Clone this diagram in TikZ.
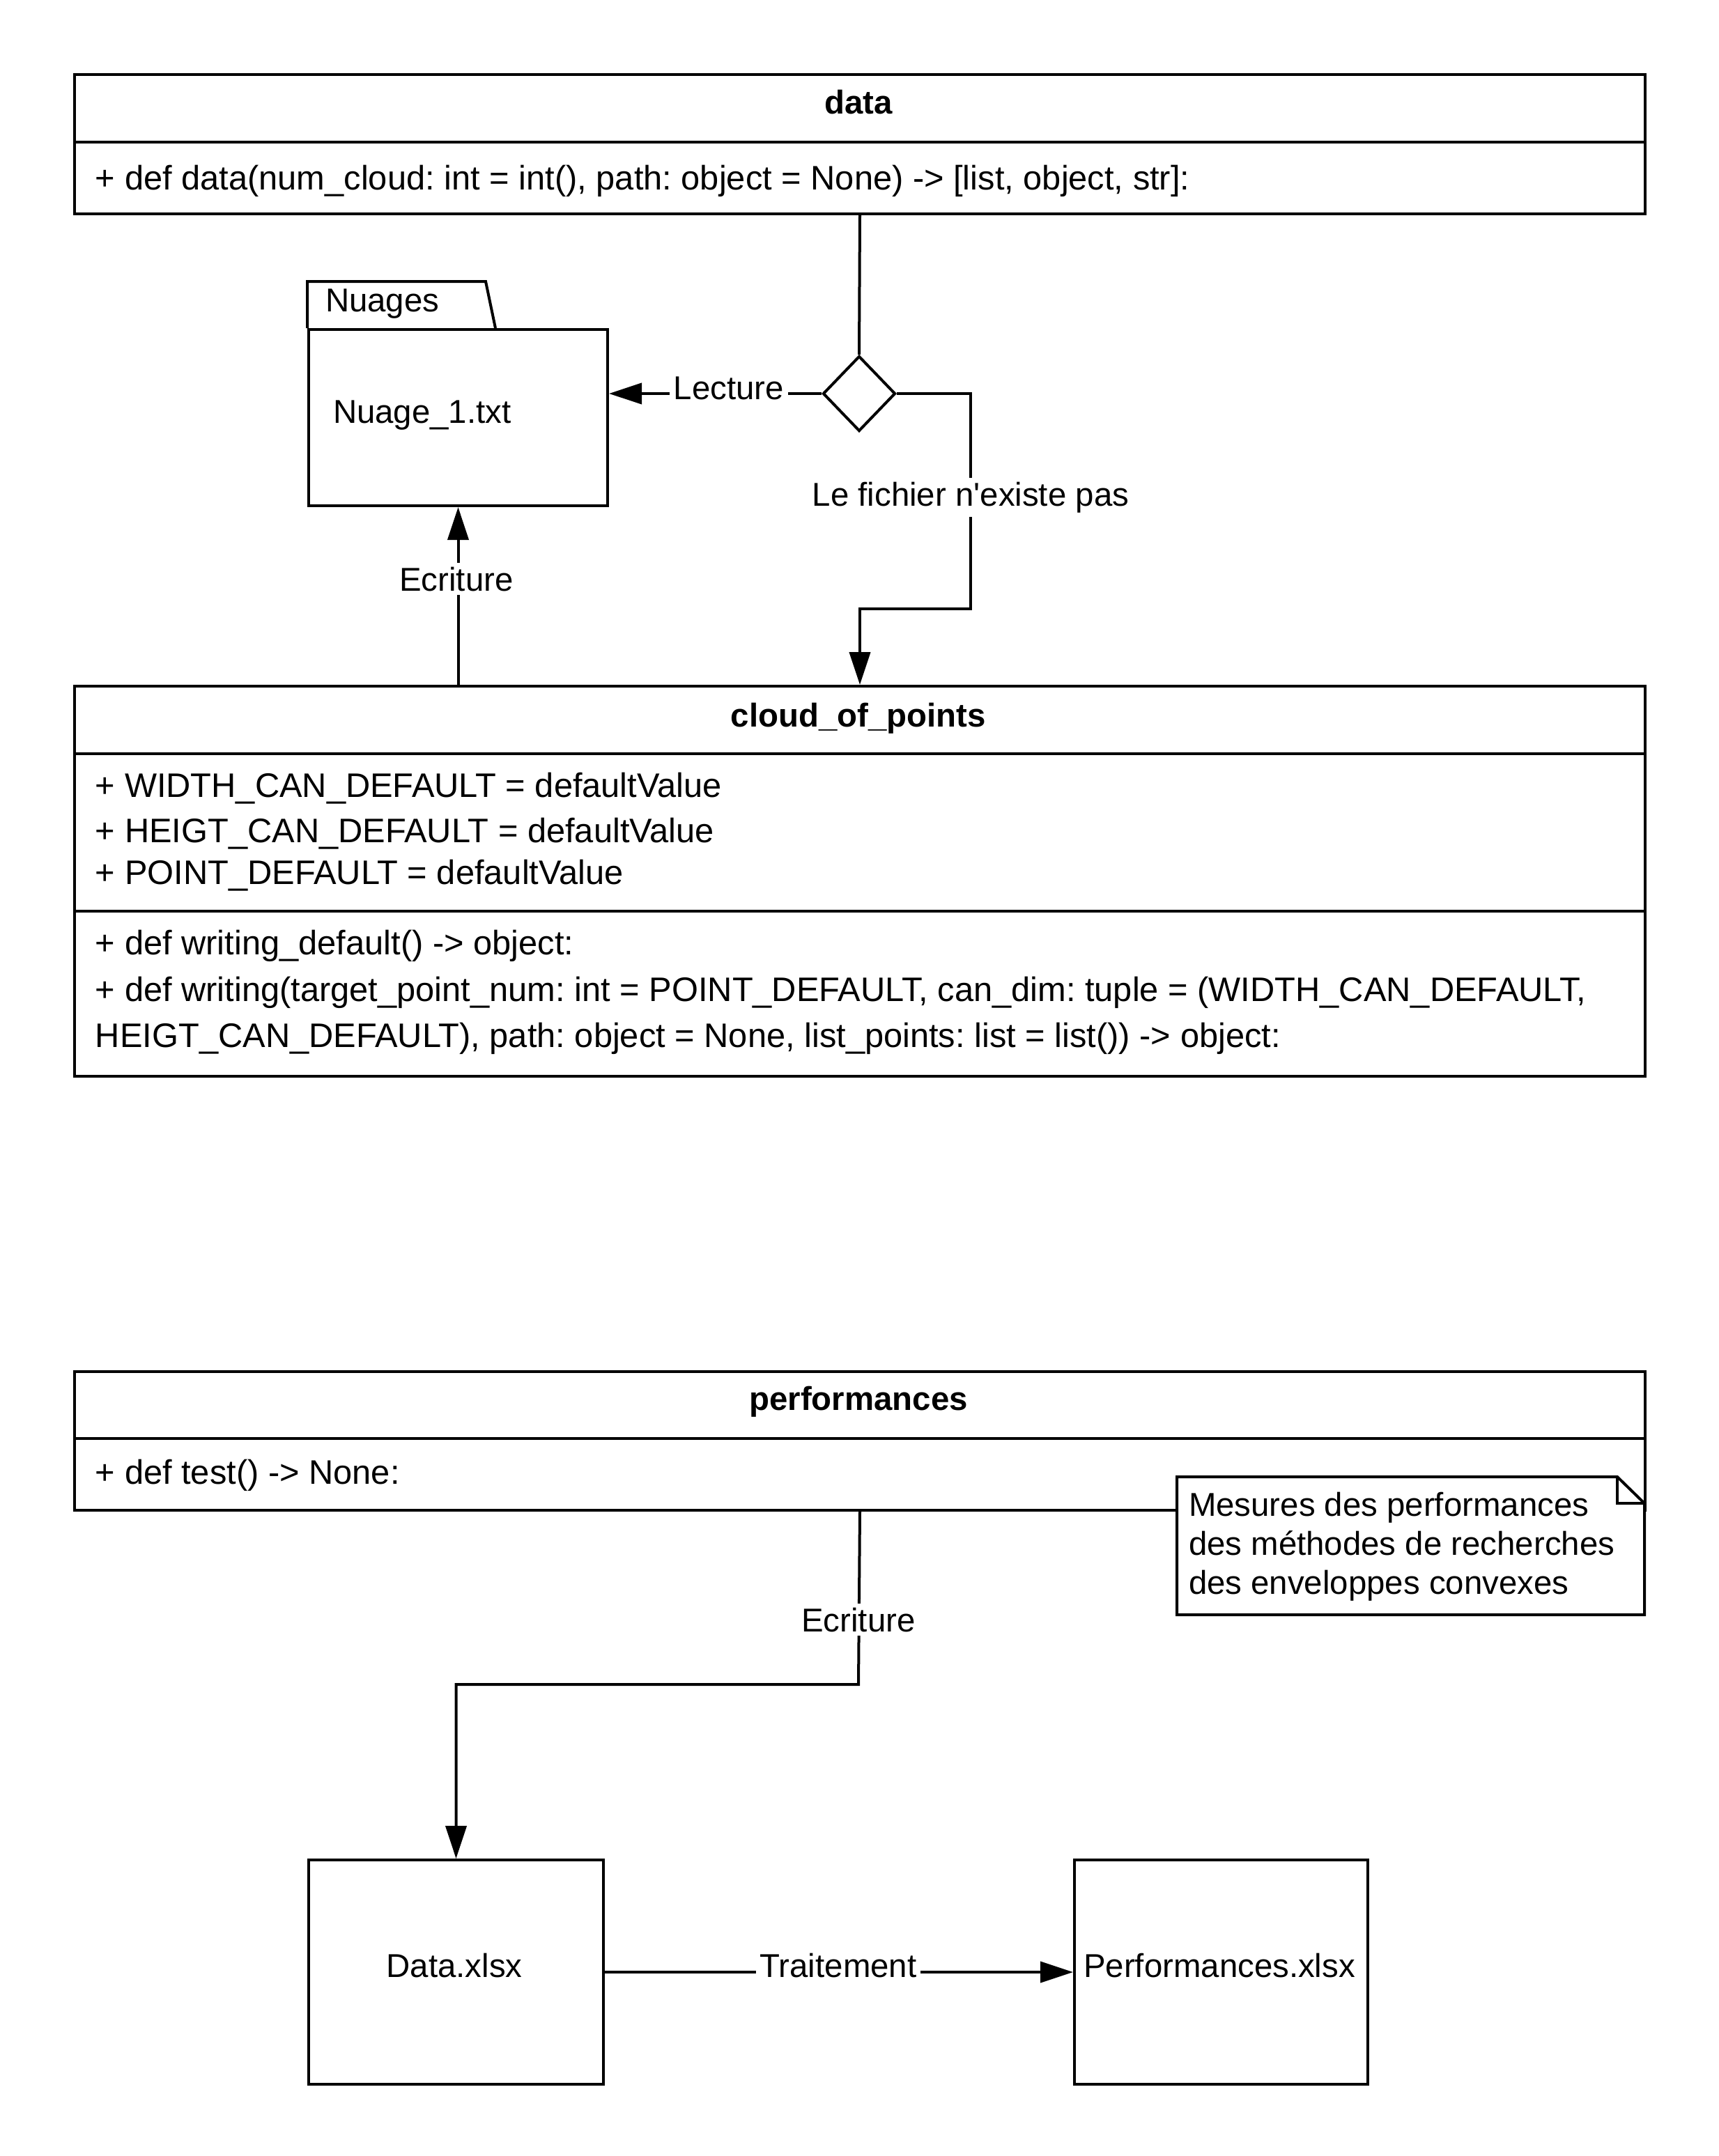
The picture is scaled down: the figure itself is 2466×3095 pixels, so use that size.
\documentclass[tikz,border=0pt]{standalone}
\usepackage{fontspec}
\setmainfont{Liberation Sans}
\usetikzlibrary{arrows.meta,shapes.geometric}
\frenchspacing
\begin{document}
\begin{tikzpicture}[x=0.25pt,y=-0.25pt,line width=1pt,
  font=\fontsize{11.85}{14}\selectfont,
  box/.style={draw,rectangle,anchor=north west,inner sep=0pt},
  txt/.style={inner sep=0pt,anchor=base west},
  member/.style={inner sep=0pt,anchor=base west,font=\fontsize{12.2}{14}\selectfont},
  ctxt/.style={inner sep=0pt,anchor=base},
  title/.style={inner sep=0pt,anchor=base,font=\fontsize{11.85}{14}\selectfont\bfseries},
  lbl/.style={fill=white,inner sep=1.5pt,anchor=base},
  arr/.style={-{Triangle[length=11.75pt,width=7.5pt]}}]
\useasboundingbox (0,0) rectangle (2466,3095);
\fill[white] (0,0) rectangle (2466,3095);

% ---- class data ----
\node[box,minimum width=563.5pt,minimum height=50pt] (data) at (105,105) {};
\draw (105,204) -- (2359,204);
\node[title] (datatitle) at (1232,163) {data};
\node[member] (datam1) at (135,272) {+ def data(num\_cloud: int = int(), path: object = None) -> [list, object, str]:};

% ---- folder Nuages ----
\draw (441,471) -- (441,404) -- (697,404) -- (711,471);
\node[box,minimum width=107.25pt,minimum height=63.25pt] (nuage) at (441,471) {};
\node[txt] (nuagestab) at (465,447) {Nuages};
\node[txt] (nuagefile) at (476,607) {Nuage\_1.txt};

% ---- decision ----
\node[draw,diamond,inner sep=0pt,minimum width=26pt,minimum height=27pt] (dec) at (1233,565) {};

% ---- class cloud_of_points ----
\node[box,minimum width=563.5pt,minimum height=140pt] (cloud) at (105,983) {};
\draw (105,1082) -- (2359,1082);
\draw (105,1308) -- (2359,1308);
\node[title] (cloudtitle) at (1232,1043) {cloud\_of\_points};
\node[member] (clouda1) at (135,1144) {+ WIDTH\_CAN\_DEFAULT = defaultValue};
\node[member] (clouda2) at (135,1209) {+ HEIGT\_CAN\_DEFAULT = defaultValue};
\node[member] (clouda3) at (135,1269) {+ POINT\_DEFAULT = defaultValue};
\node[member] (cloudm1) at (135,1370) {+ def writing\_default() -> object:};
\node[member] (cloudm2) at (135,1437) {+ def writing(target\_point\_num: int = POINT\_DEFAULT, can\_dim: tuple = (WIDTH\_CAN\_DEFAULT,};
\node[member] (cloudm3) at (135,1503) {HEIGT\_CAN\_DEFAULT), path: object = None, list\_points: list = list()) -> object:};

% ---- connectors, upper part ----
\draw (data.south) -- (dec.north);
\draw[arr] (dec.west) -- (dec.west -| nuage.east);
\node[lbl] (lecture) at (1046,573) {Lecture};
\draw[arr] (dec.east) -| (1393,874) -| (cloud.north);
\node[lbl] (absent) at (1393,726) {Le fichier n\textquotesingle existe pas};
\draw[arr] (nuage.south |- cloud.north) -- (nuage.south);
\node[lbl] (ecrit1) at (655,848) {Ecriture};

% ---- class performances ----
\node[box,minimum width=563.5pt,minimum height=49.75pt] (perf) at (105,1967) {};
\draw (105,2065) -- (2359,2065);
\node[title] (perftitle) at (1232,2024) {performances};
\node[member] (perfm1) at (135,2130) {+ def test() -> None:};

% ---- note ----
\node[inner sep=0pt,outer sep=0pt,minimum width=167.75pt,minimum height=49.5pt,anchor=north west] (note) at (1689,2120) {};
\filldraw[fill=white] (note.north west) -- (2321,2120) -- (2360,2158) -- (note.south east) -- (note.south west) -- cycle;
\draw (2321,2120) -- (2321,2158) -- (2360,2158);
\node[txt] (note1) at (1704,2176) {Mesures des performances};
\node[txt] (note2) at (1704,2232) {des méthodes de recherches};
\node[txt] (note3) at (1704,2288) {des enveloppes convexes};

% ---- files ----
\node[box,minimum width=105.75pt,minimum height=80.5pt] (datax) at (441,2668) {};
\node[ctxt] (dataxt) at (652,2838) {Data.xlsx};
\node[box,minimum width=105.25pt,minimum height=80.5pt] (perfx) at (1540,2668) {};
\node[ctxt] (perfxt) at (1750,2838) {Performances.xlsx};

% ---- connectors, lower part ----
\draw[arr] (perf.south) -- (1232,2418) -| (datax.north);
\node[lbl] (ecrit2) at (1232,2342) {Ecriture};
\draw[arr] (datax.east) -- (perfx.west);
\node[lbl] (traite) at (1203,2838) {Traitement};
\end{tikzpicture}
\end{document}
